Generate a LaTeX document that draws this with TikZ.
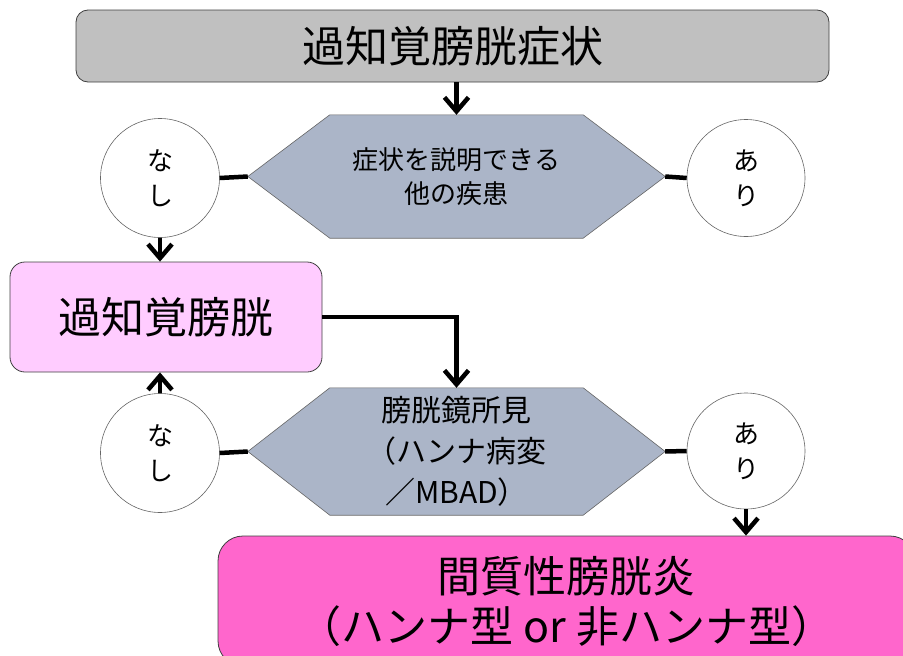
\documentclass[tikz,border=0pt]{standalone}
\usepackage{fontspec}
\newfontfamily\cjk{Noto Sans CJK JP}
\usetikzlibrary{arrows.meta,backgrounds,shapes.geometric}
\definecolor{topgray}{RGB}{192,192,192}
\definecolor{lightpink}{RGB}{255,204,255}
\definecolor{hotpink}{RGB}{255,102,204}
\definecolor{hexblue}{RGB}{171,181,200}
\begin{document}
\begin{tikzpicture}[x=1pt,y=-1pt,
  box/.style={draw=black!75, line width=0.8pt, rounded corners=12pt, align=center,
    font=\cjk\fontsize{43}{50}\selectfont, inner sep=0pt},
  bubble/.style={ellipse, draw=black!60, line width=0.6pt, fill=white,
    minimum width=119pt, minimum height=119pt, align=center,
    font=\cjk\fontsize{26}{35}\selectfont, inner sep=0pt},
  hexlabel/.style={minimum width=417pt, align=center, inner sep=0pt},
  hexshape/.style={fill=hexblue, draw=black!60, line width=0.6pt},
  link/.style={line width=4.5pt},
  arrow/.style={link, -{Straight Barb[length=14pt,width=24pt]}}]
\useasboundingbox (0,0) rectangle (903,656);

% boxes
\node[box, fill=topgray, minimum width=753pt, minimum height=72pt] (top) at (452.5,46) {過知覚膀胱症状};
\node[box, fill=lightpink, minimum width=312pt, minimum height=110pt, rounded corners=15pt] (ob) at (166,317) {過知覚膀胱};
\node[box, fill=hotpink, minimum width=697pt, minimum height=130pt, rounded corners=25pt] (ic) at (566.5,601) {間質性膀胱炎\\（ハンナ型 or 非ハンナ型）};

% hexagon labels
\node[hexlabel, minimum height=123pt, font=\cjk\fontsize{26}{34}\selectfont] (hexA) at (456.5,176.5) {症状を説明できる\\他の疾患};
\node[hexlabel, minimum height=127pt, font=\cjk\fontsize{30}{41}\selectfont] (hexB) at (456.5,451.5) {膀胱鏡所見\\（ハンナ病変\\／MBAD）};

\begin{scope}[on background layer]
\foreach \h in {hexA,hexB}{
  \path[hexshape] (\h.west) -- ([xshift=82pt]\h.north west) -- ([xshift=-82pt]\h.north east)
    -- (\h.east) -- ([xshift=-82pt]\h.south east) -- ([xshift=82pt]\h.south west) -- cycle;
}
\end{scope}

% bubbles
\node[bubble] (noA) at (160,178) {な\\し};
\node[bubble, minimum width=118pt, minimum height=117pt] (yesA) at (746,178) {あ\\り};
\node[bubble] (noB) at (160,453) {な\\し};
\node[bubble, minimum width=118pt, minimum height=116pt] (yesB) at (746,451) {あ\\り};

% connectors
\draw[arrow] (top.south -| hexA.north) -- (hexA.north);
\draw[link] (noA.east) -- (hexA.west);
\draw[link] (hexA.east) -- (yesA.west);
\draw[arrow] (noA.south) -- (noA.south |- ob.north);
\draw[arrow] (ob.east) -| (hexB.north);
\draw[arrow] (noB.north) -- (noB.north |- ob.south);
\draw[link] (noB.east) -- (hexB.west);
\draw[link] (hexB.east) -- (yesB.west);
\draw[arrow] (yesB.south) -- (yesB.south |- ic.north);
\end{tikzpicture}
\end{document}
